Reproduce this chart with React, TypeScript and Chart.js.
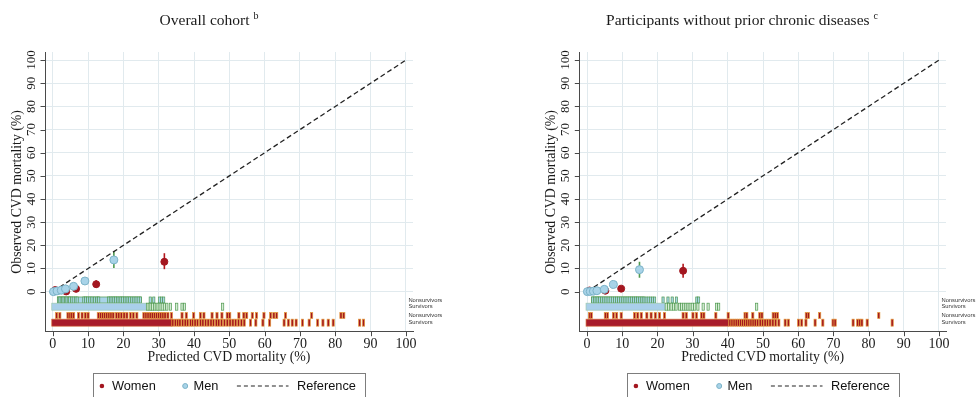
import React, { useEffect, useRef } from 'react';
import { Chart, registerables } from 'chart.js';

Chart.register(...registerables);

// ---------------- DATA ----------------
const AXIS_TICKS = [0, 10, 20, 30, 40, 50, 60, 70, 80, 90, 100];
const REF_X = [0, 100];
const REF_Y = [0, 100];

// Panel 1: Overall cohort
const womenX_L = [0.7, 3.8, 6.6, 12.3, 31.6];
const womenY_L = [0.7, 0.1, 1.2, 3.2, 12.9];
const womenLo_L = [0.3, 0.0, 0.6, 1.7, 9.7];
const womenHi_L = [1.1, 0.4, 1.8, 4.9, 16.6];
const menX_L = [0.2, 1.2, 2.4, 3.6, 5.9, 9.1, 17.3];
const menY_L = [0.0, 0.3, 0.6, 1.2, 2.3, 4.6, 13.7];
const menLo_L = [0.0, 0.1, 0.3, 0.7, 1.3, 3.0, 10.2];
const menHi_L = [0.1, 0.5, 0.9, 1.7, 3.4, 6.3, 17.3];

const menNonsurvBand_L = [1.6, 24.8];
const menNonsurv_L = [1.6, 2.0, 2.4, 2.8, 3.2, 3.6, 4.0, 4.4, 4.8, 5.3, 5.8, 6.4, 6.9, 8.8, 9.3, 9.9, 10.5, 11.1, 11.8, 12.5, 13.0, 15.8, 16.3, 16.8, 17.3, 17.8, 18.3, 18.8, 19.3, 19.8, 20.3, 20.8, 21.3, 21.8, 22.4, 23.0, 23.6, 24.2, 24.8, 27.6, 28.6, 30.2, 30.8, 31.4];
const menSurvBlock_L = [0, 26.4];
const menSurv_L = [26.8, 27.3, 27.8, 28.3, 28.8, 29.3, 29.8, 30.4, 31.0, 31.6, 32.3, 33.3, 35.1, 36.6, 37.3, 48.1];
const womenNonsurv_L = [1.1, 2.0, 4.3, 4.9, 5.4, 5.9, 7.3, 8.3, 9.2, 10.0, 12.9, 13.5, 14.1, 14.7, 15.3, 15.9, 16.5, 17.1, 18.0, 18.7, 19.4, 20.2, 21.0, 22.0, 22.8, 23.8, 25.8, 26.4, 27.0, 27.6, 28.2, 28.8, 29.4, 30.0, 30.6, 31.2, 31.8, 32.6, 33.6, 36.6, 37.8, 39.9, 41.8, 42.8, 45.1, 46.5, 47.9, 49.4, 50.1, 52.7, 54.1, 54.9, 56.5, 57.7, 59.8, 61.7, 62.6, 63.4, 65.9, 73.3, 81.6, 82.4];
const womenSurvBlock_L = [0, 33.5];
const womenSurv_L = [34.0, 34.7, 35.4, 36.0, 36.8, 37.5, 38.2, 39.0, 39.6, 40.3, 41.0, 41.8, 42.5, 43.3, 44.0, 44.8, 45.5, 46.3, 47.0, 47.8, 48.6, 49.4, 50.2, 51.0, 51.8, 52.6, 53.4, 54.2, 56.0, 57.5, 59.5, 61.4, 65.5, 66.7, 67.8, 68.9, 70.7, 72.6, 75.0, 76.5, 78.0, 79.4, 86.9, 88.0];

// Panel 2: Participants without prior chronic diseases
const womenX_R = [0.7, 5.2, 9.7, 27.3];
const womenY_R = [0.5, 0.4, 1.3, 9.0];
const womenLo_R = [0.2, 0.1, 0.6, 6.0];
const womenHi_R = [0.8, 0.9, 2.0, 12.0];
const menX_R = [0.1, 0.9, 1.8, 2.8, 4.9, 7.5, 14.9];
const menY_R = [0.0, 0.1, 0.2, 0.4, 1.0, 3.1, 9.5];
const menLo_R = [0.0, 0.0, 0.0, 0.1, 0.5, 1.8, 6.0];
const menHi_R = [0.1, 0.3, 0.5, 0.8, 1.6, 4.6, 12.9];

const menNonsurvBand_R = [1.6, 16.0];
const menNonsurv_R = [1.6, 2.1, 2.6, 3.1, 3.6, 4.2, 4.8, 5.4, 6.0, 6.6, 7.2, 7.8, 8.4, 9.0, 9.6, 10.2, 10.8, 11.4, 12.0, 12.6, 13.2, 13.8, 14.4, 15.0, 15.6, 16.2, 16.8, 17.4, 18.0, 18.6, 19.2, 21.6, 23.0, 24.2, 25.4, 31.2, 31.7];
const menSurvBlock_R = [0, 22.0];
const menSurv_R = [22.5, 23.2, 23.9, 24.6, 25.3, 26.3, 26.9, 27.5, 28.1, 28.7, 29.3, 29.9, 30.6, 31.5, 33.0, 34.4, 36.8, 37.4, 48.2];
const womenNonsurv_R = [0.7, 1.2, 5.2, 5.8, 7.5, 8.4, 9.7, 13.5, 14.4, 15.4, 17.0, 18.2, 19.4, 20.6, 22.0, 27.3, 28.2, 30.1, 31.1, 32.5, 33.2, 36.6, 40.1, 44.9, 45.4, 47.1, 49.1, 49.7, 52.9, 53.5, 54.1, 62.3, 62.9, 66.1, 82.9];
const womenSurvBlock_R = [0, 40.0];
const womenSurv_R = [40.6, 41.2, 41.8, 42.4, 43.0, 43.6, 44.2, 44.8, 45.4, 46.0, 46.6, 47.2, 47.8, 48.5, 49.2, 49.9, 50.6, 51.3, 52.0, 52.8, 53.6, 54.5, 56.3, 57.2, 60.1, 61.0, 62.2, 64.8, 67.0, 69.9, 70.5, 75.6, 76.9, 77.5, 78.1, 79.6, 86.7];

const RUG_LABELS = ['Nonsurvivors', 'Survivors', 'Nonsurvivors', 'Survivors'];
const LEGEND_LABELS = ['Women', 'Men', 'Reference'];
const X_TITLE = 'Predicted CVD mortality (%)';
const Y_TITLE = 'Observed CVD mortality (%)';

// ---------------- STYLE ----------------
const SERIF = '"Liberation Serif", "Times New Roman", serif';
const SANS = '"Liberation Sans", Arial, sans-serif';
const RED = '#a3161f';
const RED_EDGE = '#e59a3c';
const BLUE = '#a8d3e8';
const BLUE_EDGE = '#7cb3c8';
const GREEN = '#4f9a4f';
const GRID = '#e1eaee';
const AXIS = '#4a4a4a';

const RUG_LEVELS = [-3.6, -6.5, -10.3, -13.4]; // y positions (data units) of the 4 rug rows
const RUG_H = [6, 7, 6, 7];

type Rug = { band?: number[]; bandFill?: string; bandStroke?: string; ticks: number[]; tickFill: string; tickStroke: string };
type ErrSeries = { xs: number[]; lo: number[]; hi: number[]; color: string };
type PanelCfg = {
  left: number;
  pad: { left: number; right: number; top: number; bottom: number };
  title: string;
  sup: string;
  titleCenter: number;
  women: { x: number[]; y: number[] };
  men: { x: number[]; y: number[] };
  errs: ErrSeries[];
  rugs: Rug[];
};

const panels: PanelCfg[] = [
  {
    left: 0,
    pad: { left: 45, right: 75, top: 52, bottom: 65.3 },
    title: 'Overall cohort',
    sup: 'b',
    titleCenter: 209,
    women: { x: womenX_L, y: womenY_L },
    men: { x: menX_L, y: menY_L },
    errs: [
      { xs: womenX_L, lo: womenLo_L, hi: womenHi_L, color: '#b3161c' },
      { xs: menX_L, lo: menLo_L, hi: menHi_L, color: GREEN },
    ],
    rugs: [
      { band: menNonsurvBand_L, bandFill: BLUE, bandStroke: GREEN, ticks: menNonsurv_L, tickFill: BLUE, tickStroke: GREEN },
      { band: menSurvBlock_L, bandFill: '#a9cfea', bandStroke: '#9cc9b0', ticks: menSurv_L, tickFill: '#d6ecd6', tickStroke: GREEN },
      { ticks: womenNonsurv_L, tickFill: RED, tickStroke: RED_EDGE },
      { band: womenSurvBlock_L, bandFill: '#a81c2b', bandStroke: '#d46a3a', ticks: womenSurv_L, tickFill: RED, tickStroke: RED_EDGE },
    ],
  },
  {
    left: 488,
    pad: { left: 91.3, right: 30, top: 52, bottom: 65.3 },
    title: 'Participants without prior chronic diseases',
    sup: 'c',
    titleCenter: 254,
    women: { x: womenX_R, y: womenY_R },
    men: { x: menX_R, y: menY_R },
    errs: [
      { xs: womenX_R, lo: womenLo_R, hi: womenHi_R, color: '#b3161c' },
      { xs: menX_R, lo: menLo_R, hi: menHi_R, color: GREEN },
    ],
    rugs: [
      { band: menNonsurvBand_R, bandFill: BLUE, bandStroke: GREEN, ticks: menNonsurv_R, tickFill: BLUE, tickStroke: GREEN },
      { band: menSurvBlock_R, bandFill: '#a9cfea', bandStroke: '#9cc9b0', ticks: menSurv_R, tickFill: '#d6ecd6', tickStroke: GREEN },
      { ticks: womenNonsurv_R, tickFill: RED, tickStroke: RED_EDGE },
      { band: womenSurvBlock_R, bandFill: '#a81c2b', bandStroke: '#d46a3a', ticks: womenSurv_R, tickFill: RED, tickStroke: RED_EDGE },
    ],
  },
];

function makePlugin(p: PanelCfg) {
  return {
    id: 'calibFigure',
    beforeDatasetsDraw(chart: any) {
      const { ctx } = chart;
      const xs = chart.scales.x;
      const ys = chart.scales.y;
      ctx.save();
      // rug rows
      p.rugs.forEach((r, i) => {
        const yc = ys.getPixelForValue(RUG_LEVELS[i]);
        const h = RUG_H[i];
        const top = yc - h / 2;
        if (r.band) {
          const x0 = xs.getPixelForValue(r.band[0]);
          const x1 = xs.getPixelForValue(r.band[1]);
          ctx.fillStyle = r.bandFill;
          ctx.fillRect(x0 - 1, top, x1 - x0 + 2, h);
          ctx.strokeStyle = r.bandStroke;
          ctx.lineWidth = 0.7;
          ctx.strokeRect(x0 - 1, top, x1 - x0 + 2, h);
        }
        r.ticks.forEach((v) => {
          const x = xs.getPixelForValue(v);
          ctx.fillStyle = r.tickFill;
          ctx.fillRect(x - 1.1, top, 2.2, h);
          ctx.strokeStyle = r.tickStroke;
          ctx.lineWidth = 0.7;
          ctx.strokeRect(x - 1.1, top, 2.2, h);
        });
      });
      // error bars
      p.errs.forEach((e) => {
        ctx.strokeStyle = e.color;
        ctx.lineWidth = 1.6;
        e.xs.forEach((xv, i) => {
          const x = xs.getPixelForValue(xv);
          ctx.beginPath();
          ctx.moveTo(x, ys.getPixelForValue(e.lo[i]));
          ctx.lineTo(x, ys.getPixelForValue(e.hi[i]));
          ctx.stroke();
        });
      });
      ctx.restore();
    },
    afterDraw(chart: any) {
      const { ctx, chartArea } = chart;
      const xs = chart.scales.x;
      const ys = chart.scales.y;
      const L = chartArea.left;
      const B = chartArea.bottom;
      ctx.save();
      // tick marks
      ctx.strokeStyle = AXIS;
      ctx.lineWidth = 1;
      ctx.beginPath();
      AXIS_TICKS.forEach((v) => {
        const x = Math.round(xs.getPixelForValue(v)) + 0.5;
        ctx.moveTo(x, B);
        ctx.lineTo(x, B + 4.5);
        const y = Math.round(ys.getPixelForValue(v)) + 0.5;
        ctx.moveTo(L, y);
        ctx.lineTo(L - 4.5, y);
      });
      ctx.stroke();
      ctx.fillStyle = '#1a1a1a';
      // x tick labels
      ctx.font = `14px ${SERIF}`;
      ctx.textAlign = 'center';
      ctx.textBaseline = 'alphabetic';
      AXIS_TICKS.forEach((v) => {
        ctx.fillText(String(v), xs.getPixelForValue(v), B + 16);
      });
      // y tick labels (rotated)
      ctx.font = `13px ${SERIF}`;
      AXIS_TICKS.forEach((v) => {
        ctx.save();
        ctx.translate(L - 10, ys.getPixelForValue(v));
        ctx.rotate(-Math.PI / 2);
        ctx.fillText(String(v), 0, 0);
        ctx.restore();
      });
      // axis titles
      ctx.font = `13.8px ${SERIF}`;
      ctx.fillText(X_TITLE, (chartArea.left + chartArea.right) / 2, B + 29.5);
      ctx.save();
      ctx.translate(L - 24.5, (chartArea.top + chartArea.bottom) / 2);
      ctx.rotate(-Math.PI / 2);
      ctx.fillText(Y_TITLE, 0, 0);
      ctx.restore();
      // panel title with superscript
      ctx.font = `15.5px ${SERIF}`;
      const wMain = ctx.measureText(p.title + ' ').width;
      ctx.font = `10px ${SERIF}`;
      const wSup = ctx.measureText(p.sup).width;
      const x0 = p.titleCenter - (wMain + wSup) / 2;
      ctx.textAlign = 'left';
      ctx.font = `15.5px ${SERIF}`;
      ctx.fillText(p.title + ' ', x0, 25);
      ctx.font = `10px ${SERIF}`;
      ctx.fillText(p.sup, x0 + wMain, 19);
      // rug labels
      ctx.font = `5.8px ${SANS}`;
      ctx.fillStyle = '#333';
      ctx.textBaseline = 'middle';
      const lx = xs.getPixelForValue(100) + 2.5;
      RUG_LABELS.forEach((t, i) => {
        ctx.fillText(t, lx, ys.getPixelForValue(RUG_LEVELS[i]));
      });
      // legend
      const cx = (chartArea.left + chartArea.right) / 2;
      const bx = Math.round(cx - 136) + 0.5;
      const by = 373.5;
      ctx.strokeStyle = '#7d7d7d';
      ctx.lineWidth = 1;
      ctx.strokeRect(bx, by, 272, 30);
      const ly = by + 12.5;
      ctx.fillStyle = RED;
      ctx.beginPath();
      ctx.arc(bx + 8.4, ly, 2.3, 0, Math.PI * 2);
      ctx.fill();
      ctx.fillStyle = BLUE;
      ctx.strokeStyle = BLUE_EDGE;
      ctx.beginPath();
      ctx.arc(bx + 91.7, ly, 2.5, 0, Math.PI * 2);
      ctx.fill();
      ctx.stroke();
      ctx.strokeStyle = '#222';
      ctx.lineWidth = 1.2;
      ctx.setLineDash([4, 3]);
      ctx.beginPath();
      ctx.moveTo(bx + 143.4, ly);
      ctx.lineTo(bx + 195, ly);
      ctx.stroke();
      ctx.setLineDash([]);
      ctx.fillStyle = '#111';
      ctx.font = `12.8px ${SANS}`;
      ctx.textBaseline = 'middle';
      ctx.fillText(LEGEND_LABELS[0], bx + 18.4, ly + 0.5);
      ctx.fillText(LEGEND_LABELS[1], bx + 100, ly + 0.5);
      ctx.fillText(LEGEND_LABELS[2], bx + 203.4, ly + 0.5);
      ctx.restore();
    },
  };
}

function Panel({ p }: { p: PanelCfg }) {
  const ref = useRef<HTMLCanvasElement | null>(null);
  useEffect(() => {
    if (!ref.current) return;
    const setTicks = (s: any) => {
      s.ticks = AXIS_TICKS.map((v) => ({ value: v }));
    };
    const chart = new Chart(ref.current, {
      type: 'scatter',
      data: {
        datasets: [
          {
            label: LEGEND_LABELS[1],
            data: p.men.x.map((x, i) => ({ x, y: p.men.y[i] })),
            backgroundColor: BLUE,
            borderColor: BLUE_EDGE,
            borderWidth: 1,
            pointRadius: 4,
          },
          {
            label: LEGEND_LABELS[0],
            data: p.women.x.map((x, i) => ({ x, y: p.women.y[i] })),
            backgroundColor: RED,
            borderColor: RED,
            borderWidth: 1,
            pointRadius: 3.5,
          },
          {
            type: 'line',
            label: LEGEND_LABELS[2],
            data: REF_X.map((x, i) => ({ x, y: REF_Y[i] })),
            borderColor: '#222',
            borderWidth: 1.3,
            borderDash: [5, 3],
            pointRadius: 0,
            fill: false,
          } as any,
        ],
      },
      options: {
        responsive: false,
        animation: false,
        devicePixelRatio: 1,
        layout: { padding: p.pad },
        plugins: { legend: { display: false }, tooltip: { enabled: false }, title: { display: false } },
        scales: {
          x: {
            type: 'linear',
            min: -2.2,
            max: 102,
            afterBuildTicks: setTicks,
            ticks: { display: false },
            grid: { color: GRID, drawTicks: false, lineWidth: 1 },
            border: { display: true, color: AXIS, width: 1 },
          },
          y: {
            type: 'linear',
            min: -17.3,
            max: 103.5,
            afterBuildTicks: setTicks,
            ticks: { display: false },
            grid: { color: GRID, drawTicks: false, lineWidth: 1 },
            border: { display: true, color: AXIS, width: 1 },
          },
        },
      },
      plugins: [makePlugin(p)],
    });
    return () => chart.destroy();
  }, [p]);
  return (
    <canvas
      ref={ref}
      width={488}
      height={397}
      style={{ position: 'absolute', left: p.left, top: 0, width: 488, height: 397 }}
    />
  );
}

export default function App() {
  return (
    <div style={{ position: 'absolute', left: 0, top: 0, width: 976, height: 397, background: '#fff', overflow: 'hidden' }}>
      {panels.map((p, i) => (
        <Panel key={i} p={p} />
      ))}
    </div>
  );
}
